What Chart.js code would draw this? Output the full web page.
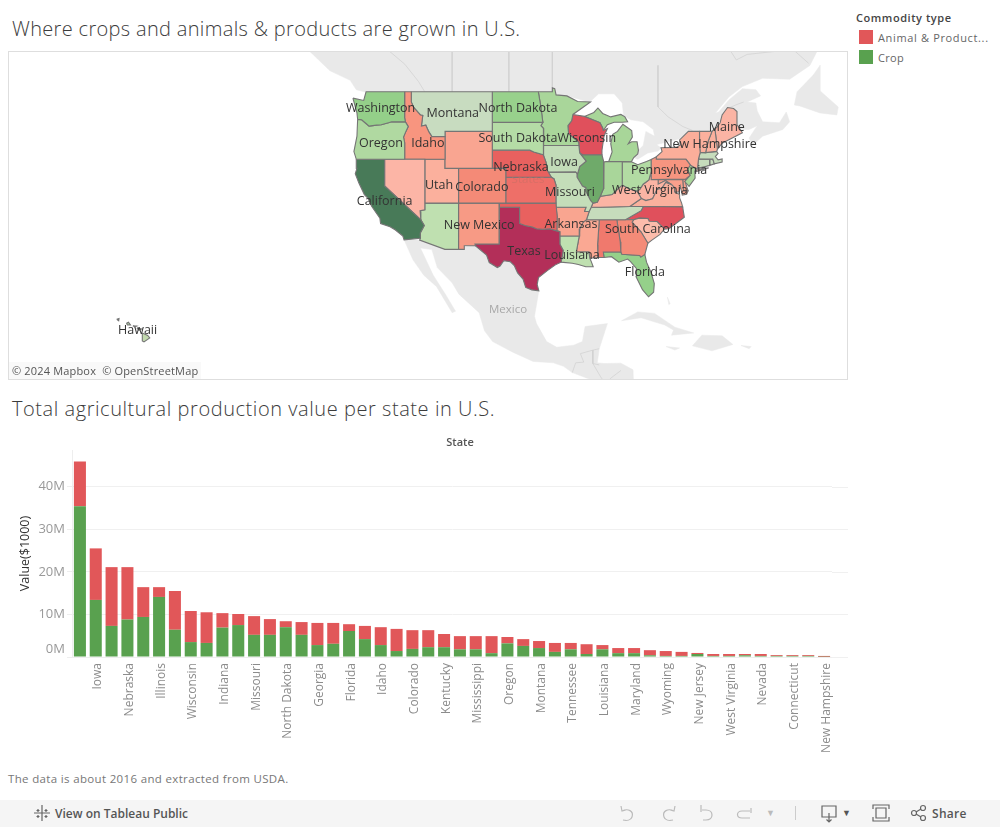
<!DOCTYPE html>
<html>
<head>
<meta charset="utf-8">
<title>Agricultural production per state</title>
<script src="https://cdn.jsdelivr.net/npm/chart.js@4/dist/chart.umd.min.js"></script>
<style>
  html, body { margin: 0; padding: 0; background: #fff; overflow: hidden; }
  body { position: relative; width: 1000px; height: 827px; font-family: "Open Sans", sans-serif; color: #555; }
  .abs { position: absolute; white-space: nowrap; }
  .title { font-size: 20px; font-weight: 300; color: #3c3c3c; line-height: 24px; }
  #map-frame { left: 8px; top: 51px; width: 838px; height: 327px; border: 1px solid #dedede; }
  #map { left: 9px; top: 52px; }
  #bars { left: 0; top: 430px; }
  #credit { left: 9px; top: 362px; padding: 0 3px 0 3px; font-size: 11px; line-height: 17px; color: #555; letter-spacing: .17px; background: rgba(245,245,245,.6); }
  .swatch { width: 14px; height: 14px; left: 859px; }
  #toolbar { left: 0; top: 800px; width: 1000px; height: 27px; background: #f5f5f5; }
  #toolbar svg { position: absolute; top: 4px; fill: none; stroke: #9a9a9a; stroke-width: 1.2; }
</style>
</head>
<body>
<div class="abs title" style="left:12px;top:17px;letter-spacing:.33px">Where crops and animals &amp; products are grown in U.S.</div>
<div class="abs title" style="left:12px;top:397px;letter-spacing:.56px">Total agricultural production value per state in U.S.</div>

<div class="abs" style="left:856px;top:10px;font-size:11px;font-weight:600;color:#444;letter-spacing:.55px">Commodity type</div>
<div class="abs swatch" style="top:30px;background:#e15759"></div>
<div class="abs" style="left:878px;top:30px;font-size:11px;color:#666;letter-spacing:.65px">Animal &amp; Product...</div>
<div class="abs swatch" style="top:50px;background:#59a14f"></div>
<div class="abs" style="left:878px;top:50px;font-size:11px;color:#666;letter-spacing:.3px">Crop</div>

<div class="abs" id="map-frame"></div>
<canvas class="abs" id="map" width="838" height="327"></canvas>
<div class="abs" id="credit">© 2024 Mapbox &nbsp;© OpenStreetMap</div>

<canvas class="abs" id="bars" width="850" height="330"></canvas>
<div class="abs" style="left:400px;top:434px;width:120px;text-align:center;font-size:11px;font-weight:600;color:#555">State</div>

<div class="abs" style="left:8px;top:771px;font-size:11.5px;color:#777;letter-spacing:.34px">The data is about 2016 and extracted from USDA.</div>

<div class="abs" id="toolbar">
  <svg style="left:33px" width="18" height="18" viewBox="0 0 18 18"><path d="M9 1v16M1 9h16M5 5v3M3.500 6.500h3M13 5v3M11.500 6.500h3M5 11v3M3.500 12.500h3M13 11v3M11.500 12.500h3" stroke="#666"/></svg>
  <div class="abs" style="left:55px;top:5px;font-size:12px;font-weight:600;color:#555">View on Tableau Public</div>
  <svg style="left:619px" width="18" height="18" viewBox="0 0 18 18"><path d="M2 2l1 5 4-1M3 7c6-3 12 0 10 6-1 3-5 4-9 3" stroke="#bbb"/></svg>
  <svg style="left:659px" width="18" height="18" viewBox="0 0 18 18"><path d="M16 2l-1 5-4-1M15 7c-6-3-12 0-10 6 1 3 5 4 9 3" stroke="#bbb"/></svg>
  <svg style="left:699px" width="18" height="18" viewBox="0 0 18 18"><path d="M2 1v7M3 6h4c8 0 8 10 0 10H4" stroke="#bbb"/></svg>
  <svg style="left:735px" width="18" height="18" viewBox="0 0 18 18"><path d="M16 4v5M15 7h-8c-6 0-6 7 0 7h8" stroke="#bbb"/></svg>
  <div class="abs" style="left:766px;top:6px;font-size:9px;color:#bbb">▼</div>
  <div class="abs" style="left:795px;top:6px;width:1px;height:14px;background:#ccc"></div>
  <svg style="left:820px" width="18" height="20" viewBox="0 0 18 20"><path d="M2 2h14v11H2zM9 9v9M6.500 15.500L9 18l2.500-2.500" stroke="#666"/></svg>
  <div class="abs" style="left:842px;top:6px;font-size:9px;color:#555">▼</div>
  <svg style="left:872px" width="18" height="18" viewBox="0 0 18 18"><path d="M1 5V1h16v4M1 13v4h16v-4M4 4h10v10H4z" stroke="#666"/></svg>
  <svg style="left:910px" width="18" height="18" viewBox="0 0 18 18"><circle cx="4" cy="9" r="2.500" stroke="#666"/><circle cx="13" cy="4" r="2.500" stroke="#666"/><circle cx="13" cy="14" r="2.500" stroke="#666"/><path d="M6 8l5-3M6 10l5 3" stroke="#666"/></svg>
  <div class="abs" style="left:932px;top:5px;font-size:12px;font-weight:600;color:#555;letter-spacing:.3px">Share</div>
</div>

<script>
// ─── BAR DATA ─────────────────────────────────────────────
const states = ['California','Iowa','Texas','Nebraska','Minnesota','Illinois','Kansas','Wisconsin',
  'North Carolina','Indiana','South Dakota','Missouri','Ohio','North Dakota','Washington','Georgia',
  'Arkansas','Florida','Michigan','Idaho','Oklahoma','Colorado','Pennsylvania','Kentucky','Alabama',
  'Mississippi','New York','Oregon','Arizona','Montana','Virginia','Tennessee','New Mexico','Louisiana',
  'South Carolina','Maryland','Utah','Wyoming','Delaware','New Jersey','Hawaii','West Virginia','Vermont',
  'Nevada','Maine','Connecticut','Massachusetts','New Hampshire'];
const cropValues = [35.4,13.4,7.3,8.8,9.4,14.1,6.4,3.5,3.3,6.9,7.5,5.2,5.2,7.0,5.2,2.8,3.1,6.1,4.2,2.8,1.4,1.9,2.3,
  2.3,1.8,1.8,0.9,3.2,2.6,2.1,1.2,1.8,0.7,1.8,0.9,0.9,0.4,0.25,0.25,0.7,0.25,0.25,0.4,0.25,0.25,0.25,0.25,0.05];
const animalValues = [10.5,12.1,13.8,12.3,7.0,2.3,9.1,7.3,7.2,3.4,2.6,4.4,3.7,1.4,3.0,5.2,4.9,1.6,3.1,4.2,5.2,4.4,4.0,
  3.1,3.1,3.1,4.0,1.5,1.6,1.65,2.1,1.5,2.3,1.0,1.2,1.2,1.2,1.15,0.95,0.25,0.45,0.45,0.3,0.45,0.2,0.2,0.2,0.2];
const valueTicks = [0,10,20,30,40];

// ─── MAP DATA (longitude, latitude) ───────────────────────
const stateNames = ['Washington','Oregon','California','Nevada','Idaho','Montana','Wyoming','Utah','Colorado',
  'Arizona','New Mexico','North Dakota','South Dakota','Nebraska','Kansas','Oklahoma','Texas','Minnesota','Iowa',
  'Missouri','Arkansas','Louisiana','Wisconsin','Illinois','Indiana','Ohio','Michigan','Michigan','Kentucky',
  'Tennessee','Mississippi','Alabama','Georgia','Florida','South Carolina','North Carolina','Virginia',
  'West Virginia','Pennsylvania','New York','New York','Vermont','New Hampshire','Maine','Massachusetts',
  'Rhode Island','Connecticut','New Jersey','Delaware','Maryland','Hawaii','Hawaii','Hawaii','Hawaii','Hawaii'];
const stateOutlines = [
  [[-124.7,48.38],[-123.1,48.15],[-122.75,49],[-117.03,49],[-117.04,46.42],[-116.92,45.99],[-118.98,46],[-119.3,45.93],[-120.5,45.7],[-121.2,45.65],[-122.3,45.55],[-122.8,45.85],[-123.4,46.2],[-124,46.25],[-124.1,46.9]],
  [[-124,46.25],[-123.4,46.2],[-122.8,45.85],[-122.3,45.55],[-121.2,45.65],[-120.5,45.7],[-119.3,45.93],[-118.98,46],[-116.92,45.99],[-116.5,45.5],[-116.85,45],[-117.2,44.4],[-117.03,43.8],[-117.03,42],[-124.2,42],[-124.55,42.85],[-124.1,44.5]],
  [[-124.2,42],[-120,42],[-120,39],[-114.63,35],[-114.13,34.3],[-114.7,33.4],[-114.72,32.72],[-117.12,32.53],[-117.3,33],[-118.4,33.75],[-119.2,34.15],[-120.6,34.55],[-120.7,35.2],[-121.9,36.6],[-122.5,37.6],[-123,38],[-123.8,39.3],[-124.35,40.4],[-124.1,41]],
  [[-120,42],[-114.04,42],[-114.04,37],[-114.05,36.2],[-114.75,36.1],[-114.63,35],[-120,39]],
  [[-117.03,49],[-116.05,49],[-116.05,48],[-115.7,47.45],[-114.7,46.7],[-114.35,46.65],[-114.55,45.55],[-113.9,45.65],[-113.45,44.95],[-113,44.45],[-111.05,44.47],[-111.05,42],[-117.03,42],[-117.03,43.8],[-117.2,44.4],[-116.85,45],[-116.5,45.5],[-116.92,45.99],[-117.04,46.42]],
  [[-116.05,49],[-104.05,49],[-104.05,45],[-111.05,45],[-111.05,44.47],[-113,44.45],[-113.45,44.95],[-113.9,45.65],[-114.55,45.55],[-114.35,46.65],[-114.7,46.7],[-115.7,47.45],[-116.05,48]],
  [[-111.05,45],[-104.05,45],[-104.05,41],[-111.05,41]],
  [[-114.04,42],[-111.05,42],[-111.05,41],[-109.05,41],[-109.05,37],[-114.04,37]],
  [[-109.05,41],[-102.05,41],[-102.05,37],[-109.05,37]],
  [[-114.75,36.1],[-114.05,36.2],[-114.04,37],[-109.05,37],[-109.05,31.33],[-111.07,31.33],[-114.81,32.5],[-114.72,32.72],[-114.7,33.4],[-114.13,34.3],[-114.63,35]],
  [[-109.05,37],[-103,37],[-103.05,32],[-106.62,32],[-106.53,31.78],[-108.2,31.78],[-108.2,31.33],[-109.05,31.33]],
  [[-104.05,49],[-97.23,49],[-96.85,47.5],[-96.56,45.94],[-104.05,45.94]],
  [[-104.05,45.94],[-96.56,45.94],[-96.85,45.6],[-96.45,45.3],[-96.45,43.5],[-96.5,42.5],[-97.9,42.8],[-98.5,43],[-104.05,43]],
  [[-104.05,43],[-98.5,43],[-97.9,42.8],[-96.5,42.5],[-96.1,41.7],[-95.85,40.7],[-95.3,40],[-102.05,40],[-102.05,41],[-104.05,41]],
  [[-102.05,40],[-95.3,40],[-94.9,39.8],[-94.61,39.1],[-94.62,37],[-102.05,37]],
  [[-103,37],[-94.62,37],[-94.43,35.4],[-94.48,33.64],[-95.5,33.9],[-96.6,33.85],[-97.5,33.9],[-98.1,34.13],[-99.2,34.3],[-100,34.56],[-100,36.5],[-103,36.5]],
  [[-103,36.5],[-100,36.5],[-100,34.56],[-99.2,34.3],[-98.1,34.13],[-97.5,33.9],[-96.6,33.85],[-95.5,33.9],[-94.48,33.64],[-94.04,33.55],[-94.04,33],[-94.04,31.99],[-93.55,31.2],[-93.85,29.7],[-94.7,29.35],[-95.9,28.6],[-97.2,27.7],[-97.4,26.8],[-97.15,25.95],[-98.2,26.07],[-99.1,26.4],[-99.5,27.5],[-100.3,28.3],[-100.8,29.25],[-101.4,29.77],[-102.35,29.88],[-102.9,29.2],[-103.3,29],[-104.5,29.65],[-104.9,30.6],[-106.53,31.78],[-106.62,32],[-103.05,32]],
  [[-97.23,49],[-95.15,49],[-95.15,49.38],[-94.8,49.3],[-94.6,48.7],[-93,48.6],[-91.4,48.05],[-89.5,48],[-92.1,46.75],[-92.3,46.1],[-92.85,45.6],[-92.75,44.75],[-91.25,43.85],[-91.22,43.5],[-96.45,43.5],[-96.45,45.3],[-96.85,45.6],[-96.56,45.94],[-96.85,47.5]],
  [[-96.45,43.5],[-91.22,43.5],[-91.1,42.7],[-90.15,41.8],[-91.1,41.2],[-91.42,40.38],[-91.7,40.6],[-95.77,40.58],[-95.85,40.7],[-96.1,41.7],[-96.5,42.5]],
  [[-95.77,40.58],[-91.7,40.6],[-91.42,40.38],[-91.5,40],[-90.7,39],[-90.2,38.8],[-90.2,38.4],[-89.5,37.3],[-89.15,37],[-89.4,36.5],[-89.7,36],[-90.37,36],[-90.15,36.5],[-94.62,36.5],[-94.62,37],[-94.61,39.1],[-94.9,39.8],[-95.3,40]],
  [[-94.62,36.5],[-90.15,36.5],[-90.37,36],[-89.7,36],[-90.1,35],[-90.6,34.7],[-91.1,33.9],[-91.17,33],[-94.04,33],[-94.04,33.55],[-94.48,33.64],[-94.43,35.4]],
  [[-94.04,33],[-91.17,33],[-91.6,31],[-89.73,31],[-89.6,30.2],[-89.4,29.8],[-89.1,29.1],[-90.2,29.1],[-91.3,29.4],[-92.2,29.55],[-93.85,29.7],[-93.55,31.2],[-94.04,31.99]],
  [[-92.1,46.75],[-90.4,46.55],[-88.1,45.9],[-87.7,45.35],[-87.6,45.1],[-87,45.3],[-87.5,44.5],[-87.8,43],[-87.8,42.5],[-90.64,42.5],[-91.1,42.7],[-91.22,43.5],[-91.25,43.85],[-92.75,44.75],[-92.85,45.6],[-92.3,46.1]],
  [[-90.64,42.5],[-87.8,42.5],[-87.53,41.7],[-87.53,39.3],[-87.6,38.7],[-88.05,37.8],[-88.5,37.1],[-89.15,37],[-89.5,37.3],[-90.2,38.4],[-90.2,38.8],[-90.7,39],[-91.5,40],[-91.42,40.38],[-91.1,41.2],[-90.15,41.8],[-91.1,42.7]],
  [[-87.53,41.7],[-87.2,41.75],[-84.8,41.75],[-84.8,39.1],[-85.4,38.7],[-86.3,38],[-87.2,37.9],[-88.05,37.8],[-87.6,38.7],[-87.53,39.3]],
  [[-84.8,41.75],[-83.45,41.72],[-82.5,41.4],[-81.2,41.75],[-80.52,41.98],[-80.52,40.64],[-80.85,39.7],[-81.7,39.2],[-82.2,38.6],[-82.6,38.4],[-83.7,38.65],[-84.8,39.1]],
  [[-86.8,41.76],[-84.8,41.75],[-83.45,41.72],[-83.1,42.2],[-82.5,42.6],[-82.4,43],[-82.6,43.9],[-83.4,43.9],[-83.9,43.7],[-83.3,44.4],[-83.4,45.1],[-84.7,45.75],[-85.5,45],[-86.2,44.7],[-86.5,43.7],[-86.3,42.8]],
  [[-90.4,46.55],[-89,46.95],[-88.4,47.4],[-87.7,46.85],[-86.5,46.5],[-85,46.75],[-84.4,46.5],[-84,46],[-84.8,45.95],[-86,45.95],[-87,45.7],[-87.6,45.1],[-87.7,45.35],[-88.1,45.9]],
  [[-89.4,36.5],[-89.15,37],[-88.5,37.1],[-88.05,37.8],[-87.2,37.9],[-86.3,38],[-85.4,38.7],[-84.8,39.1],[-83.7,38.65],[-82.6,38.4],[-81.97,37.54],[-83.68,36.6],[-88.07,36.5]],
  [[-90.1,35],[-89.7,36],[-89.4,36.5],[-88.07,36.5],[-83.68,36.6],[-81.68,36.59],[-82,36.1],[-84.32,35]],
  [[-90.6,34.7],[-90.1,35],[-88.2,35],[-88.45,31.9],[-88.4,30.3],[-89.6,30.2],[-89.73,31],[-91.6,31],[-91.17,33],[-91.1,33.9]],
  [[-88.2,35],[-85.6,35],[-85.1,32.3],[-85,31],[-87.6,31],[-87.5,30.3],[-88.4,30.3],[-88.45,31.9]],
  [[-85.6,35],[-83.1,35],[-83.35,34.7],[-82,33.5],[-81,32.1],[-81.45,30.7],[-82.05,30.35],[-82.2,30.55],[-84.85,30.7],[-85,31],[-85.1,32.3]],
  [[-87.6,31],[-85,31],[-84.85,30.7],[-82.2,30.55],[-82.05,30.35],[-81.45,30.7],[-81.2,29.7],[-80.55,28.4],[-80.05,26.9],[-80.15,25.75],[-80.9,25.15],[-81.8,26.1],[-82.75,27.8],[-82.7,28.9],[-83.6,29.8],[-84,30.1],[-85.3,29.7],[-86.4,30.4],[-87.5,30.3]],
  [[-83.35,34.7],[-83.1,35],[-82.3,35.2],[-81,35.15],[-80.8,34.82],[-79.67,34.8],[-78.55,33.86],[-79.2,33.2],[-80.4,32.5],[-81,32.1],[-82,33.5]],
  [[-84.32,35],[-83.1,35],[-82.3,35.2],[-81,35.15],[-80.8,34.82],[-79.67,34.8],[-78.55,33.86],[-77.9,33.9],[-76.6,34.7],[-75.6,35.3],[-75.85,36.55],[-81.68,36.59],[-82,36.1]],
  [[-83.68,36.6],[-81.68,36.59],[-75.85,36.55],[-76,37],[-76.3,37.6],[-76.3,38],[-77,38.3],[-77.05,38.8],[-77.5,39.15],[-78.35,39.4],[-78.9,38.75],[-79.65,38.6],[-80.3,37.5],[-81.3,37.3],[-81.97,37.54]],
  [[-82.6,38.4],[-81.97,37.54],[-81.3,37.3],[-80.3,37.5],[-79.65,38.6],[-78.9,38.75],[-78.35,39.4],[-77.75,39.3],[-78.4,39.62],[-79.48,39.2],[-79.48,39.72],[-80.52,39.72],[-80.52,40.64],[-80.85,39.7],[-81.7,39.2],[-82.2,38.6]],
  [[-80.52,41.98],[-79.76,42.27],[-79.76,42],[-75.35,42],[-74.7,41.36],[-75.15,40.9],[-74.75,40.2],[-75.4,39.8],[-80.52,39.72]],
  [[-79.76,42],[-79.76,42.27],[-78.9,42.85],[-79.05,43.27],[-76.8,43.3],[-76.2,43.55],[-76.3,44.1],[-75,45],[-73.35,45],[-73.35,43.6],[-73.25,42.75],[-73.5,42.05],[-73.65,41],[-73.9,41],[-74.7,41.36],[-75.35,42]],
  [[-74.05,40.6],[-72,41.05],[-73.7,40.9]],
  [[-73.35,45],[-71.5,45],[-72.05,44],[-72.45,42.73],[-73.25,42.75],[-73.35,43.6]],
  [[-71.5,45],[-71.08,45.3],[-70.7,43.1],[-70.82,42.87],[-72.45,42.73],[-72.05,44]],
  [[-71.08,45.3],[-70.8,45.4],[-70.3,45.9],[-70,46.7],[-69.2,47.45],[-68.3,47.35],[-67.8,47.05],[-67.8,45.7],[-67.3,45.2],[-67,44.85],[-68.5,44.3],[-70,43.75],[-70.7,43.1]],
  [[-73.5,42.05],[-73.25,42.75],[-72.45,42.73],[-70.82,42.87],[-70.6,42.65],[-71,42.3],[-70.6,41.95],[-70,42.05],[-70,41.7],[-71.15,41.5],[-71.38,42.02]],
  [[-71.8,42.02],[-71.38,42.02],[-71.15,41.5],[-71.85,41.32]],
  [[-73.5,42.05],[-71.8,42.02],[-71.85,41.32],[-73.65,41]],
  [[-74.7,41.36],[-73.9,41],[-74.05,40.65],[-74,39.9],[-74.9,38.95],[-75.55,39.5],[-74.75,40.2],[-75.15,40.9]],
  [[-75.8,39.72],[-75.4,39.8],[-75.4,39.3],[-75.05,38.45],[-75.7,38.45]],
  [[-79.48,39.72],[-75.8,39.72],[-75.7,38.45],[-75.05,38.45],[-75.25,38.03],[-75.9,37.95],[-76.2,39],[-76.4,38.3],[-77,38.3],[-77.05,38.8],[-77.5,39.15],[-77.75,39.3],[-78.4,39.62],[-79.48,39.2]],
  [[-155.9,20.2],[-155.1,19.85],[-154.8,19.5],[-155.65,18.95],[-155.9,19.1]],
  [[-156.7,20.9],[-156,20.75],[-156.4,20.58]],
  [[-158.25,21.55],[-157.95,21.7],[-157.65,21.3],[-158.1,21.3]],
  [[-159.7,22.1],[-159.35,22.2],[-159.4,21.9]],
  [[-157.3,21.2],[-156.75,21.15],[-157,21.05]]
];
const stateTints = ['#94cf89','#b0d9a1','#487a58','#fcb5a6','#f8957f','#c8dcc0','#f9a591','#fbb09d','#f48a77',
  '#bfe0b0','#f79a85','#98d18c','#b5dca6','#e8615f','#ee6f68','#e9615f','#b32f59','#a9d69a','#c2dcb8',
  '#c4ddb9','#f9a590','#bfe0b0','#e0505c','#6faa6a','#a9d69a','#b2dba3','#a8d699','#a8d699','#fbb4a4',
  '#c6dcbc','#faa893','#f0796d','#f48b78','#95d08a','#fcbcab','#e0505c','#fab09d',
  '#fbb4a4','#f79580','#fbae9a','#fbae9a','#fbb09d','#fbb09d','#fbb4a4','#c6dcbc',
  '#c6dcbc','#c6dcbc','#a9d69a','#f9a08c','#f9a08c','#c2d9ae','#a9c8a0','#a9c8a0','#a9c8a0','#a9c8a0'];

// Canada, Mexico & Central America, Newfoundland, Cuba, Hispaniola, Jamaica, Puerto Rico, Andros
const landOutlines = [
  [[-131.4,52.95],[-128.1,51],[-125.1,50.1],[-124.2,49.2],[-123,49],[-95.15,49],[-94.6,48.7],[-93,48.6],[-89.6,48],[-88.3,48.8],[-86,48.8],[-84.8,47.9],[-84.6,46.6],[-83.5,46.2],[-81.7,46],[-80.2,45.2],[-80,44.5],[-81.3,45],[-81.7,43.5],[-82.4,43],[-82.5,42.6],[-83.1,42.2],[-82.5,42],[-81,42.7],[-79.5,42.9],[-79,43.2],[-79.7,43.6],[-78,43.9],[-76.4,44.2],[-75,45],[-71.5,45],[-70.8,45.4],[-70,46.7],[-69.2,47.45],[-68.3,47.35],[-67.8,47.05],[-67.8,45.7],[-67.3,45.2],[-66,45.2],[-64.8,45.6],[-66,44.3],[-65.5,43.5],[-64,44.5],[-61,45.2],[-60,46],[-60.5,47],[-61.5,45.9],[-64,46],[-64.8,47.1],[-65,47.9],[-66.3,48],[-64.3,48.6],[-65,49.2],[-67,49.3],[-69,48.2],[-70.5,47],[-71,46.9],[-69,48.5],[-67,49.5],[-64,50.3],[-60,50.2],[-57,51.5],[-55.8,52.95]],
  [[-117.12,32.53],[-115.8,30],[-114.2,28],[-112.3,26.5],[-110,23],[-109.5,23.2],[-111,25.5],[-112.8,28],[-114.7,31.5],[-113,31.3],[-112.2,29],[-110,27],[-109,25.5],[-106,23],[-105.2,20.5],[-104,19],[-101,17.5],[-98,16.2],[-95,16],[-93.5,15.5],[-92.2,14.6],[-90,13.8],[-88,13.2],[-85,10],[-83,10],[-83.2,15],[-85,15.95],[-87.5,15.9],[-88.5,16],[-88.2,18],[-87,21.5],[-90.3,21.1],[-90.7,19],[-92,18.5],[-94.5,18.2],[-96,19],[-97.5,21.5],[-97.8,22.5],[-97.15,25.95],[-99.5,27.5],[-101.4,29.77],[-106.53,31.78],[-111.07,31.33],[-114.81,32.5]],
  [[-59.3,47.7],[-58.9,49],[-56.5,50.6],[-55.5,51.5],[-55.5,49.1],[-52.8,47.5],[-53,46.7],[-55.5,46.9],[-58.5,47.6]],
  [[-84.9,21.9],[-82.5,23.1],[-80,22.9],[-77,21],[-74.2,20.2],[-77.5,19.9],[-77.2,20.6],[-78.5,21.3],[-82,22.3]],
  [[-74.4,18.4],[-73,19.9],[-70,19.8],[-68.4,18.6],[-71.5,17.7]],
  [[-78.3,18.3],[-76.3,18.1],[-77,17.8]],
  [[-67.2,18.45],[-65.7,18.3],[-66,18]],
  [[-78.1,25.1],[-77.7,24.2],[-77.9,24.1]]
];
// Alberta, the prairie and Ontario lines, Quebec, Central America
const borderLines = [
  [[-119.6,52.95],[-117,51.6],[-115,50],[-114.05,49]],
  [[-110,52.95],[-110,49]],
  [[-101.6,52.95],[-101.6,49]],
  [[-95.15,52.95],[-95.15,49]],
  [[-79.5,51.5],[-79.5,47.5],[-78,46.5],[-75.8,45.5],[-74.4,45.1]],
  [[-68.9,52.95],[-67.9,52],[-66.3,52.5],[-59.5,52.95],[-57.2,51.7]],
  [[-70,46.7],[-69,47.4],[-68,47.7],[-66.8,48]],
  [[-92.2,14.6],[-91.7,16],[-90.5,16.1],[-91,17.3],[-89.15,17.8],[-89.15,15.9],[-88.2,15.7]],
  [[-89.15,15.9],[-88,14],[-87.5,13.3]],
  [[-85,14.9],[-86.5,13.8],[-87.3,13]],
  [[-89.15,17.8],[-88.2,18]]
];

const labelNames = ['Washington','Montana','North Dakota','Oregon','Idaho','South Dakota','Wisconsin','Iowa','Nebraska',
  'Utah','Colorado','Missouri','West Virginia','Pennsylvania','California','Maine','New Hampshire','New Mexico',
  'Arkansas','South Carolina','Texas','Louisiana','Florida','Hawaii'];
const labelLons = [-120.6,-109.9,-100.25,-120.55,-113.6,-100.25,-90.05,-93.4,-99.8,-111.95,-105.6,-92.55,-80.7,-77.85,
  -120,-69.3,-71.8,-106,-92.4,-81,-99.35,-92.25,-81.45,-156.6];
const labelLats = [47.35,46.85,47.35,43.7,43.7,44.25,44.25,41.65,41.1,39.1,38.88,38.28,38.5,40.82,37.24,45.46,43.66,
  34.36,34.48,33.86,31.12,30.62,28.42,20.6];
// Basemap place names
const placeNames = ['Mexico','States'];
const placeLons = [-101.72,-98.76];
const placeLats = [23.34,39.68];

// Map axes are longitude and web-mercator latitude
const mercator = lat => Math.log(Math.tan(Math.PI / 4 + lat * Math.PI / 360));
const toPoints = outline => outline.map(([lon, lat]) => ({ x: lon, y: mercator(lat) }));
const closed = outline => toPoints(outline.concat([outline[0]]));

Chart.defaults.font.family = '"Open Sans", sans-serif';
Chart.defaults.animation = false;

const MAP_EXTENT = { west: -175.65, east: -51.5, north: 1.0867, south: 0.2411 };

// Lower order draws on top: land, then its borders, then the states
const landSets = landOutlines.map(outline => ({
  order: 2, data: closed(outline), showLine: true, fill: 'shape', pointRadius: 0,
  backgroundColor: '#e9e9e9', borderColor: '#e9e9e9', borderWidth: 0.5,
}));
const borderSets = borderLines.map(line => ({
  order: 1, data: toPoints(line), showLine: true, pointRadius: 0, fill: false,
  borderColor: '#d0d0d0', borderWidth: 0.7,
}));
const stateSets = stateOutlines.map((outline, i) => ({
  order: 0, label: stateNames[i], data: closed(outline), showLine: true, fill: 'shape', pointRadius: 0,
  backgroundColor: stateTints[i], borderColor: '#757575', borderWidth: 1.1,
}));

// Place names and state labels are written on top of the polygons
const mapLabels = {
  id: 'mapLabels',
  afterDatasetsDraw(chart) {
    const { ctx, scales: { x, y } } = chart;
    ctx.save();
    ctx.textAlign = 'center';
    ctx.textBaseline = 'middle';
    ctx.font = '11.5px "Open Sans", sans-serif';
    placeNames.forEach((name, i) => {
      ctx.fillStyle = name === 'States' ? 'rgba(200,110,100,.6)' : '#a8a8a8';
      ctx.fillText(name, x.getPixelForValue(placeLons[i]), y.getPixelForValue(mercator(placeLats[i])));
    });
    ctx.font = '12.5px "Open Sans", sans-serif';
    ctx.fillStyle = '#333';
    labelNames.forEach((name, i) => {
      ctx.fillText(name, x.getPixelForValue(labelLons[i]), y.getPixelForValue(mercator(labelLats[i])));
    });
    ctx.restore();
  }
};

new Chart(document.getElementById('map'), {
  type: 'scatter',
  data: { datasets: [...landSets, ...borderSets, ...stateSets] },
  options: {
    responsive: false,
    layout: { padding: 0 },
    plugins: { legend: { display: false }, tooltip: { enabled: false } },
    scales: {
      x: { type: 'linear', display: false, min: MAP_EXTENT.west, max: MAP_EXTENT.east },
      y: { type: 'linear', display: false, min: MAP_EXTENT.south, max: MAP_EXTENT.north },
    },
  },
  plugins: [mapLabels],
});

// Value gridlines run on past the last bar, to the edge of the map frame
const gridTail = {
  id: 'gridTail',
  beforeDatasetsDraw(chart) {
    const { ctx, chartArea, scales: { y } } = chart;
    ctx.save();
    ctx.strokeStyle = '#f0f0f0';
    ctx.lineWidth = 1;
    y.ticks.forEach(t => {
      const py = Math.round(y.getPixelForValue(t.value)) + 0.5;
      ctx.beginPath();
      ctx.moveTo(chartArea.right, py);
      ctx.lineTo(chart.width - 2, py);
      ctx.stroke();
    });
    ctx.restore();
  }
};

new Chart(document.getElementById('bars'), {
  type: 'bar',
  data: {
    labels: states,
    datasets: [
      { label: 'Crop', data: cropValues, backgroundColor: '#59a14f', barPercentage: 0.76, categoryPercentage: 1 },
      { label: 'Animal & Products', data: animalValues, backgroundColor: '#e15759', barPercentage: 0.76, categoryPercentage: 1 },
    ],
  },
  options: {
    responsive: false,
    layout: { padding: { top: 20, right: 18 } },
    plugins: { legend: { display: false }, tooltip: { enabled: false } },
    scales: {
      x: {
        stacked: true,
        grid: { display: false, drawTicks: false },
        border: { color: '#eeeeee' },
        afterFit: s => { s.height = 103; },
        ticks: {
          autoSkip: false, minRotation: 90, maxRotation: 90, padding: 6, labelOffset: 2,
          color: '#8c8c8c', font: { size: 12 },
          callback(v, i) { return i % 2 ? states[i] : ''; },
        },
      },
      y: {
        stacked: true,
        min: 0,
        max: 48.6,
        afterFit: s => { s.width = 72; },
        afterBuildTicks: s => { s.ticks = valueTicks.map(value => ({ value })); },
        grid: { color: '#f0f0f0', tickLength: 5, tickColor: '#eeeeee' },
        border: { color: '#eeeeee' },
        title: {
          display: true, text: 'Value($1000)', color: '#333',
          font: { size: 12.5 }, padding: { top: 18, bottom: 0 },
        },
        ticks: {
          padding: 2, color: '#999', font: { size: 13 },
          // the bottom label sits above the axis line
          callback: v => (v === 0 ? ['0M', ''] : `${v}M`),
        },
      },
    },
  },
  plugins: [gridTail],
});
</script>
</body>
</html>
